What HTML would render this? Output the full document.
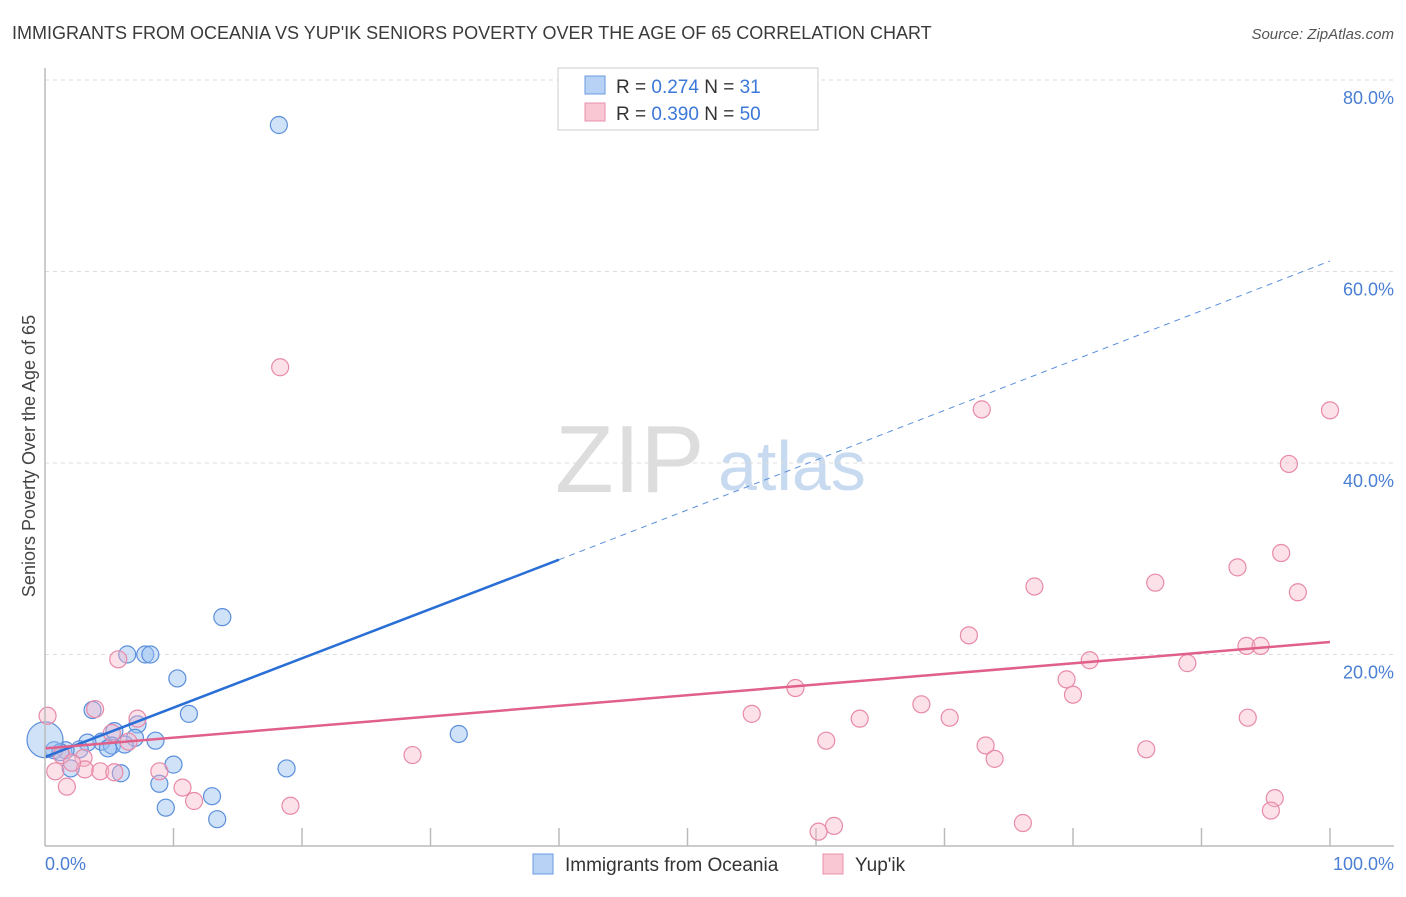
<!DOCTYPE html>
<html><head><meta charset="utf-8"><style>
body{margin:0;background:#fff;font-family:"Liberation Sans",sans-serif}
svg text{font-family:"Liberation Sans",sans-serif}
</style></head><body>
<svg id="c" width="1406" height="892">
<text x="12" y="39" font-size="18" fill="#3a3a3a">IMMIGRANTS FROM OCEANIA VS YUP'IK SENIORS POVERTY OVER THE AGE OF 65 CORRELATION CHART</text>
<text x="1394" y="39" font-size="15" fill="#555" text-anchor="end" font-style="italic">Source: ZipAtlas.com</text>
<text x="35" y="456" font-size="18" fill="#444" text-anchor="middle" transform="rotate(-90 35 456)">Seniors Poverty Over the Age of 65</text>
<text x="555" y="492" font-size="96" fill="#ddd" font-family="Liberation Serif">ZIP</text>
<text x="718" y="490" font-size="70" fill="#c8daf0">atlas</text>
<g id="grid"></g><g id="pts"></g><g id="lines"></g>
<line x1="45" y1="68" x2="45" y2="846" stroke="#bbb" stroke-width="1.5"/>
<line x1="45" y1="846" x2="1394" y2="846" stroke="#bbb" stroke-width="1.5"/>
<text x="45" y="870" font-size="18" fill="#4a7fd4">0.0%</text>
<text x="1394" y="870" font-size="18" fill="#4a7fd4" text-anchor="end">100.0%</text>
<g>
<rect x="558" y="68" width="260" height="62" fill="#fff" stroke="#ccc"/>
<rect x="585" y="76" width="20" height="18" fill="#b8d2f5" stroke="#6a9ae0"/>
<rect x="585" y="103" width="20" height="18" fill="#f9c6d4" stroke="#e890aa"/>
<text x="616" y="93" font-size="19" fill="#333">R = <tspan fill="#3b78d8">0.274</tspan>   N = <tspan fill="#3b78d8"> 31</tspan></text>
<text x="616" y="120" font-size="19" fill="#333">R = <tspan fill="#3b78d8">0.390</tspan>   N = <tspan fill="#3b78d8">50</tspan></text>
</g>
<g>
<rect x="533" y="854" width="20" height="20" fill="#b8d2f5" stroke="#6a9ae0"/>
<text x="565" y="871" font-size="19" fill="#333">Immigrants from Oceania</text>
<rect x="823" y="854" width="20" height="20" fill="#f9c6d4" stroke="#e890aa"/>
<text x="855" y="871" font-size="19" fill="#333">Yup'ik</text>
</g>
</svg>
<script>
const yTicks=[20,40,60,80];
const xTicks=[10,20,30,40,50,60,70,80,90,100];
const blueX=[18.2,13.8,6.4,7.8,8.2,10.3,11.2,3.7,7.2,5.4,7.0,8.6,4.4,5.2,3.3,2.7,1.6,0.7,1.2,2.0,5.9,8.9,10.0,13.0,9.4,13.4,18.8,32.2,0,6.2,4.9];
const blueY=[75.3,23.9,20.0,20.0,20.0,17.5,13.8,14.2,12.7,12.0,11.3,11.0,10.9,10.5,10.8,10.1,10.0,10.0,9.8,8.1,7.6,6.5,8.5,5.2,4.0,2.8,8.1,11.7,11.1,10.6,10.2];
const pinkX=[18.3,72.9,100,96.8,96.2,92.8,97.5,86.4,77.0,71.9,93.5,94.6,81.3,88.9,58.4,79.5,80.0,68.2,55.0,63.4,70.4,93.6,60.8,73.2,73.9,85.7,28.6,5.7,3.9,0.2,7.2,5.2,1.3,3.0,0.8,3.1,4.3,5.4,6.5,8.9,10.7,1.7,11.6,19.1,95.7,95.4,76.1,61.4,60.2,2.1];
const pinkY=[50.0,45.6,45.5,39.9,30.6,29.1,26.5,27.5,27.1,22.0,20.9,20.9,19.4,19.1,16.5,17.4,15.8,14.8,13.8,13.3,13.4,13.4,11.0,10.5,9.1,10.1,9.5,19.5,14.3,13.6,13.3,11.8,9.5,9.2,7.8,8.0,7.8,7.7,10.9,7.8,6.1,6.2,4.7,4.2,5.0,3.7,2.4,2.1,1.5,8.7];
const blueTrend=[9.3,29.9]; // value at x=0 and x=40 (solid end)
const blueTrendEnd=[100,61.1];
const pinkTrend=[10.2,21.3]; // value at x=0, x=100
const X=v=>45+v*12.85, Y=v=>846-v*9.575;
const NS="http://www.w3.org/2000/svg";
function mk(t,a,p){const e=document.createElementNS(NS,t);for(const k in a)e.setAttribute(k,a[k]);p.appendChild(e);return e;}
const g=document.getElementById('grid');
yTicks.forEach(v=>{
  const l=mk('line',{x1:45,x2:1394,y1:Y(v),y2:Y(v),stroke:'#ddd','stroke-dasharray':'4,4'},g);
  
  
  const t=mk('text',{x:1394,y:Y(v)+24,'font-size':18,fill:'#4a7fd4','text-anchor':'end'},g);
  t.textContent=v.toFixed(1)+'%';
  
  
});
xTicks.forEach(v=>{
  const l=mk('line',{x1:X(v),x2:X(v),y1:828,y2:846,stroke:'#bbb','stroke-width':1.5},g);
  
  
});
const p=document.getElementById('pts');
blueX.forEach((x,i)=>{
  const c=mk('circle',{cx:X(x),cy:Y(blueY[i]),r:(x===0?18:8.5),fill:'rgba(150,190,240,0.45)',stroke:'#5b8fdc','stroke-width':1.2},p);
  
  
});
pinkX.forEach((x,i)=>{
  const c=mk('circle',{cx:X(x),cy:Y(pinkY[i]),r:8.5,fill:'rgba(248,180,200,0.4)',stroke:'#e88aa8','stroke-width':1.2},p);
  
  
});
const L=document.getElementById('lines');
let e=mk('line',{x1:X(0),y1:Y(blueTrend[0]),x2:X(40),y2:Y(blueTrend[1]),stroke:'#2a6fd6','stroke-width':2.5},L);


e=mk('line',{x1:X(40),y1:Y(blueTrend[1]),x2:X(blueTrendEnd[0]),y2:Y(blueTrendEnd[1]),stroke:'#5b8fdc','stroke-width':1,'stroke-dasharray':'6,5'},L);


e=mk('line',{x1:X(0),y1:Y(pinkTrend[0]),x2:X(100),y2:Y(pinkTrend[1]),stroke:'#e0608a','stroke-width':2.5},L);


</script>
</body></html>
